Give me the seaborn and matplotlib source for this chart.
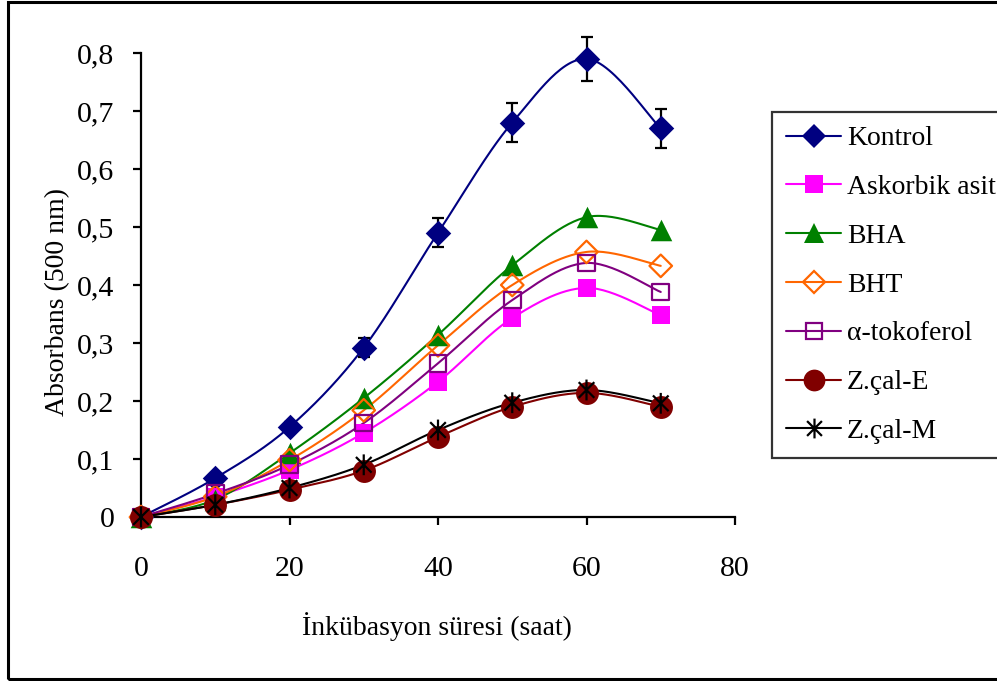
import numpy as np
import pandas as pd
import seaborn as sns
import matplotlib
matplotlib.use("Agg")
import matplotlib.pyplot as plt
from matplotlib.lines import Line2D
from matplotlib.path import Path
from matplotlib.patches import Rectangle
from matplotlib.ticker import FuncFormatter, FixedLocator

# Incubation time (hours) and absorbance at 500 nm
hours = [0, 10, 20, 30, 40, 50, 60, 70]
kontrol = [0.0, 0.067, 0.155, 0.292, 0.490, 0.680, 0.790, 0.670]
kontrol_err = [0.0, 0.004, 0.008, 0.016, 0.025, 0.033, 0.038, 0.034]
askorbik_asit = [0.0, 0.035, 0.081, 0.145, 0.233, 0.343, 0.395, 0.348]
bha = [0.0, 0.030, 0.110, 0.205, 0.314, 0.434, 0.517, 0.495]
bht = [0.0, 0.035, 0.098, 0.184, 0.296, 0.400, 0.457, 0.433]
tokoferol = [0.0, 0.040, 0.090, 0.162, 0.265, 0.374, 0.438, 0.388]
zcal_e = [0.0, 0.021, 0.047, 0.080, 0.138, 0.190, 0.214, 0.190]
zcal_m = [0.0, 0.021, 0.050, 0.090, 0.150, 0.197, 0.219, 0.196]

series_names = ["Kontrol", "Askorbik asit", "BHA", "BHT", "α-tokoferol", "Z.çal-E", "Z.çal-M"]
series_values = [kontrol, askorbik_asit, bha, bht, tokoferol, zcal_e, zcal_m]
x_ticks = [0, 20, 40, 60, 80]
y_ticks = [0, 0.1, 0.2, 0.3, 0.4, 0.5, 0.6, 0.7, 0.8]

# asterisk marker: vertical bar plus an X
asterisk = Path(
    [(0, -1), (0, 1), (-0.75, -0.75), (0.75, 0.75), (-0.75, 0.75), (0.75, -0.75)],
    [Path.MOVETO, Path.LINETO, Path.MOVETO, Path.LINETO, Path.MOVETO, Path.LINETO],
)

# marker, colour, filled, marker size (points)
styles = {
    "Kontrol": ("D", "#000080", True, 13.0),
    "Askorbik asit": ("s", "#FF00FF", True, 13.0),
    "BHA": ("^", "#008000", True, 15.5),
    "BHT": ("D", "#FF6600", False, 11.5),
    "α-tokoferol": ("s", "#800080", False, 12.0),
    "Z.çal-E": ("o", "#800000", True, 16.5),
    "Z.çal-M": (asterisk, "#000000", False, 15.0),
}

frames = []
for name, vals in zip(series_names, series_values):
    frames.append(pd.DataFrame({"saat": hours, "abs": vals, "seri": name}))
df = pd.concat(frames, ignore_index=True)


def smooth_curve(xs, ys, steps=30):
    """Cardinal (Catmull-Rom) bezier smoothing through the given points."""
    xs = np.asarray(xs, float)
    ys = np.asarray(ys, float)
    pts = np.column_stack([xs, ys])
    out = [pts[0]]
    n = len(pts)
    for i in range(n - 1):
        p0 = pts[i - 1] if i > 0 else pts[i]
        p1 = pts[i]
        p2 = pts[i + 1]
        p3 = pts[i + 2] if i + 2 < n else pts[i + 1]
        c1 = p1 + (p2 - p0) / 6.0
        c2 = p2 - (p3 - p1) / 6.0
        t = np.linspace(0, 1, steps)[1:, None]
        seg = ((1 - t) ** 3) * p1 + 3 * ((1 - t) ** 2) * t * c1 + 3 * (1 - t) * t ** 2 * c2 + t ** 3 * p2
        out.extend(seg)
    out = np.array(out)
    return out[:, 0], out[:, 1]


sns.set_theme(style="ticks")
plt.rcParams["font.family"] = ["Liberation Serif", "DejaVu Serif"]

W, H = 997, 681
fig = plt.figure(figsize=(W / 100, H / 100), dpi=100)
fig.patch.set_facecolor("white")
ax = fig.add_axes([141 / W, 1 - 517 / H, (735 - 141) / W, (517 - 53) / H])
ax.set_facecolor("white")

handles = []
for name in series_names:
    marker, color, filled, ms = styles[name]
    sub = df[df["seri"] == name]
    sx, sy = smooth_curve(sub["saat"], sub["abs"])
    ax.plot(sx, sy, color=color, lw=1.5, zorder=2, clip_on=False)
    if name == "Kontrol":
        ax.errorbar(sub["saat"], sub["abs"], yerr=kontrol_err, fmt="none",
                    ecolor="black", elinewidth=1.6, capsize=4.5, capthick=1.6,
                    zorder=3, clip_on=False)
    if filled:
        sns.scatterplot(data=sub, x="saat", y="abs", marker=marker, s=ms ** 2,
                        color=color, edgecolor=color, linewidth=0, ax=ax, zorder=4,
                        clip_on=False, legend=False)
    else:
        sns.scatterplot(data=sub, x="saat", y="abs", marker=marker, s=ms ** 2,
                        color=color, facecolors="none", edgecolor=color,
                        linewidth=1.6, ax=ax, zorder=4, clip_on=False, legend=False)
    handles.append(Line2D([0], [0], color=color, lw=1.5, marker=marker, markersize=ms * 0.95,
                          markerfacecolor=color if filled else "none",
                          markeredgecolor=color, markeredgewidth=0 if filled else 1.6,
                          label=name))

ax.set_xlim(0, 80)
ax.set_ylim(0, 0.8)
ax.xaxis.set_major_locator(FixedLocator(x_ticks))
ax.yaxis.set_major_locator(FixedLocator(y_ticks))
ax.yaxis.set_major_formatter(FuncFormatter(lambda v, p: "0" if abs(v) < 1e-9 else f"{v:.1f}".replace(".", ",")))
ax.xaxis.set_major_formatter(FuncFormatter(lambda v, p: f"{v:.0f}"))
sns.despine(ax=ax)
for sp in ("left", "bottom"):
    ax.spines[sp].set_linewidth(1.6)
    ax.spines[sp].set_color("black")
ax.tick_params(axis="both", direction="out", length=6, width=1.6, colors="black",
               labelsize=21.5, labelcolor="black")
ax.tick_params(axis="x", pad=22)
ax.tick_params(axis="y", pad=13)
ax.grid(False)

ax.set_xlabel("İnkübasyon süresi (saat)", fontsize=20, color="black")
ax.set_ylabel("Absorbans (500 nm)", fontsize=20, color="black")
ax.xaxis.set_label_coords(0.498, -0.205)
ax.yaxis.set_label_coords(-0.12, 0.463)

leg = fig.legend(handles=handles, loc="upper left", bbox_to_anchor=(772 / W, 1 - 112 / H),
                 frameon=True, fancybox=False, edgecolor="black", fontsize=20,
                 handlelength=2.0, handletextpad=0.2, labelspacing=0.84,
                 borderpad=0.5, borderaxespad=0)
leg.get_frame().set_linewidth(1.6)
for t in leg.get_texts():
    t.set_color("black")

# outer chart border
fig.patches.append(Rectangle((8 / W, 2 / H), 1.02 - 8 / W, (679 - 2) / H,
                             transform=fig.transFigure, fill=False, edgecolor="black",
                             linewidth=2.2, zorder=10))

fig.savefig("out.png", dpi=100, facecolor="white")
